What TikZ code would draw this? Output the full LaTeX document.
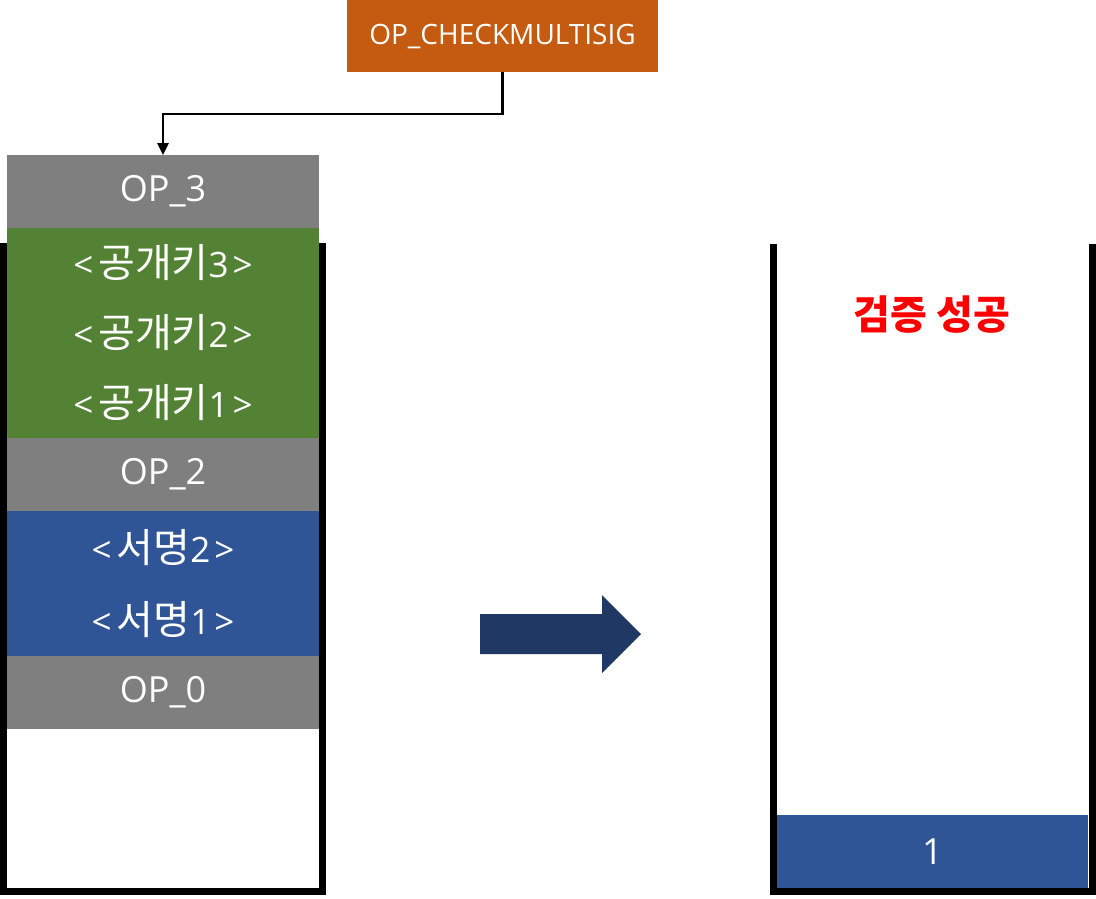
\documentclass[tikz,border=0pt]{standalone}
\usepackage{fontspec}
\setmainfont{Open Sans}
\newfontfamily\kr{Noto Sans CJK KR}
\usetikzlibrary{arrows.meta}
\definecolor{orangec}{HTML}{C55A11}
\definecolor{grayc}{HTML}{7F7F7F}
\definecolor{greenc}{HTML}{548235}
\definecolor{bluec}{HTML}{2F5597}
\definecolor{darkc}{HTML}{203864}
\newcommand\hg[1]{{\kr\fontsize{40}{40}\selectfont #1}}
\newcommand\lab[2]{<\kern5pt\hg{#1}#2\kern4pt>}
\begin{document}
\begin{tikzpicture}[x=1pt,y=-1pt,
  block/.style={inner sep=0pt, outer sep=0pt, anchor=north west, minimum width=312pt, text=white, font=\fontsize{36}{36}\selectfont},
  krblock/.style={block, font=\fontsize{35}{35}\selectfont},
  wall/.style={line width=7pt, line join=miter}
]
\useasboundingbox (0,0) rectangle (1096,898);
% containers
\draw[wall] (3.5,243) -- (3.5,891.5) -- (322.5,891.5) -- (322.5,243);
\draw[wall] (773,244) -- (773,891.5) -- (1092,891.5) -- (1092,244);
% top operator
\node[inner sep=0pt, outer sep=0pt, anchor=north west, minimum width=311pt, minimum height=72pt, fill=orangec, text=white, font=\fontsize{28}{28}\selectfont] (check) at (347,0) {OP\_CHECKMULTISIG};
% left stack
\node[block, fill=grayc, minimum height=73pt] (op3) at (7,155) {OP\_3};
\node[krblock, fill=greenc, minimum height=70pt] (k3) at (7,228) {\lab{공개키}{3}};
\node[krblock, fill=greenc, minimum height=70pt] (k2) at (7,298) {\lab{공개키}{2}};
\node[krblock, fill=greenc, minimum height=70pt] (k1) at (7,368) {\lab{공개키}{1}};
\node[block, fill=grayc, minimum height=73pt] (op2) at (7,438) {OP\_2};
\node[krblock, fill=bluec, minimum height=72.5pt] (s2) at (7,511) {\lab{서명}{2}};
\node[krblock, fill=bluec, minimum height=72.5pt] (s1) at (7,583.5) {\lab{서명}{1}};
\node[block, fill=grayc, minimum height=73pt] (op0) at (7,656) {OP\_0};
% connector
\draw[line width=2.5pt, -{Triangle[length=12pt,width=11pt]}] (check.south) -- ++(0,42) -| (op3.north);
% big arrow
\fill[darkc] (480,614) -- (602,614) -- (602,595) -- (641,634) -- (602,673) -- (602,654) -- (480,654) -- cycle;
% right stack
\node[text=red, inner sep=0pt, font=\kr\bfseries\fontsize{40}{40}\selectfont] (ok) at (932,315) {검증 성공};
\node[block, fill=bluec, minimum width=311pt, minimum height=73pt] (one) at (777,815) {1};
\end{tikzpicture}
\end{document}
